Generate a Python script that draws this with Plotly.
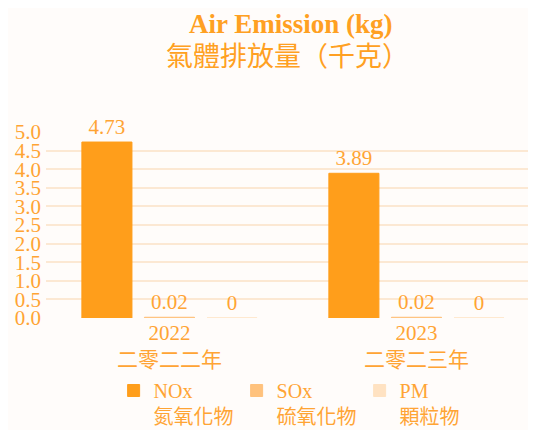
import plotly.graph_objects as go

years = ["2022<br>二零二二年", "2023<br>二零二三年"]
series_names = ["NOx<br>氮氧化物", "SOx<br>硫氧化物", "PM<br>顆粒物"]
nox = [4.73, 3.89]
sox = [0.02, 0.02]
pm = [0, 0]
colors = ["#FF9E1B", "#FFC27D", "#FFE2C2"]

FONT = "Liberation Serif, Noto Sans CJK TC, serif"
TXT = "#FFA434"

fig = go.Figure()
for name, vals, col in zip(series_names, [nox, sox, pm], colors):
    fig.add_trace(go.Bar(
        x=years, y=vals, name=name,
        marker=dict(color=col, line=dict(color=col, width=1)),
        text=[str(v) for v in vals], texttemplate="%{text}", textposition="outside",
        textfont=dict(family=FONT, size=21, color=TXT),
        cliponaxis=False,
    ))

fig.update_layout(
    width=528, height=422,
    paper_bgcolor="#FFFCFA", plot_bgcolor="#FFFCFA",
    margin=dict(l=38, r=0, t=124, b=112, autoexpand=False),
    barmode="group", bargap=0.24, bargroupgap=0.2,
    xaxis=dict(range=[-0.5, 1.484], showgrid=False, showline=False, zeroline=False,
               tickfont=dict(family=FONT, size=21, color=TXT), ticks="", automargin=False),
    yaxis=dict(range=[0, 5], dtick=0.5, tickformat=".1f", showgrid=True,
               gridcolor="#FCE8D3", gridwidth=2, zeroline=False, showline=False,
               tickfont=dict(family=FONT, size=21, color=TXT), ticklabelstandoff=4,
               automargin=False),
    showlegend=True,
    legend=dict(orientation="h", x=0.138, xanchor="left", y=-0.285, yanchor="top",
                font=dict(family=FONT, size=20, color=TXT), entrywidth=78,
                valign="top", bgcolor="rgba(0,0,0,0)"),
    annotations=[
        dict(text="<b>Air Emission (kg)</b>", xref="paper", yref="paper",
             x=0.5, y=1 + (132 - 24) / 186, xanchor="center", yanchor="middle",
             showarrow=False, font=dict(family=FONT, size=27, color="#FFA022")),
        dict(text="氣體排放量（千克）", xref="paper", yref="paper",
             x=0.5 - 4 / 490, y=1 + (132 - 57) / 186, xanchor="center", yanchor="middle",
             showarrow=False, font=dict(family=FONT, size=27, color="#FFA022")),
    ],
)

fig.write_html("out.html")
